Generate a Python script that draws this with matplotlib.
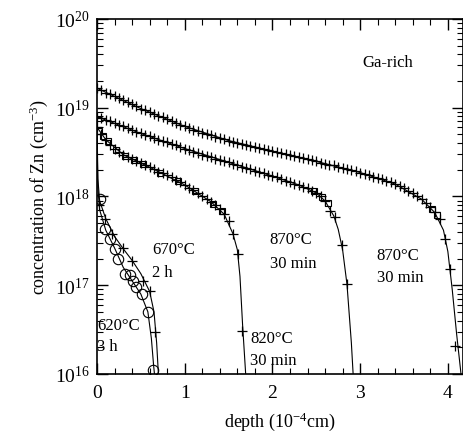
import matplotlib
matplotlib.use('Agg')
import matplotlib.pyplot as plt
import numpy as np
from matplotlib.ticker import LogLocator, MultipleLocator, NullFormatter

plt.rcParams['font.family'] = ['Liberation Serif', 'DejaVu Serif']
plt.rcParams['mathtext.fontset'] = 'custom'
plt.rcParams['mathtext.rm'] = 'Liberation Serif'
plt.rcParams['mathtext.it'] = 'Liberation Serif:italic'
plt.rcParams['mathtext.bf'] = 'Liberation Serif:bold'

# ---- data (depth in 1e-4 cm, log10 of Zn concentration in cm^-3) ----
# 870C 30 min, deep profile (+)
depth_870b = [0.00, 0.05, 0.10, 0.15, 0.20, 0.25, 0.30, 0.35, 0.40, 0.45, 0.50, 0.55, 0.60,
              0.65, 0.70, 0.75, 0.80, 0.85, 0.90, 0.95, 1.00, 1.05, 1.10, 1.15, 1.20, 1.25,
              1.30, 1.35, 1.40, 1.45, 1.50, 1.55, 1.60, 1.65, 1.70, 1.75, 1.80, 1.85, 1.90,
              1.95, 2.00, 2.05, 2.10, 2.15, 2.20, 2.25, 2.30, 2.35, 2.40, 2.45, 2.50, 2.55,
              2.60, 2.65, 2.70, 2.75, 2.80, 2.85, 2.90, 2.95, 3.00, 3.05, 3.10, 3.15, 3.20,
              3.25, 3.30, 3.35, 3.40, 3.45, 3.50, 3.55, 3.60, 3.65, 3.70, 3.75, 3.80, 3.85,
              3.91, 3.97, 4.03, 4.08]
logc_870b = [19.22, 19.195, 19.17, 19.15, 19.13, 19.11, 19.09, 19.065, 19.04, 19.015, 18.99,
             18.97, 18.95, 18.93, 18.91, 18.89, 18.87, 18.85, 18.83, 18.81, 18.79, 18.77,
             18.75, 18.735, 18.72, 18.705, 18.69, 18.675, 18.66, 18.645, 18.63, 18.615,
             18.60, 18.59, 18.58, 18.567, 18.555, 18.542, 18.53, 18.52, 18.51, 18.50, 18.49,
             18.477, 18.465, 18.452, 18.44, 18.43, 18.42, 18.407, 18.395, 18.382, 18.37,
             18.36, 18.35, 18.335, 18.32, 18.31, 18.30, 18.285, 18.27, 18.255, 18.24,
             18.225, 18.21, 18.195, 18.18, 18.16, 18.14, 18.115, 18.09, 18.065, 18.04,
             18.005, 17.97, 17.93, 17.88, 17.82, 17.75, 17.52, 17.18, 16.32]
line_depth_870b = [0.0, 0.5, 1.0, 1.5, 2.0, 2.5, 3.0, 3.4, 3.7, 3.85, 3.95, 4.0, 4.05, 4.1, 4.15]
line_logc_870b = [19.22, 18.99, 18.79, 18.63, 18.51, 18.395, 18.27, 18.14, 17.97, 17.82,
                  17.62, 17.38, 16.95, 16.45, 16.0]

# 870C 30 min, middle profile (+)
depth_870a = [0.00, 0.05, 0.10, 0.15, 0.20, 0.25, 0.30, 0.35, 0.40, 0.45, 0.50, 0.55, 0.60,
              0.65, 0.70, 0.75, 0.80, 0.85, 0.90, 0.95, 1.00, 1.05, 1.10, 1.15, 1.20, 1.25,
              1.30, 1.35, 1.40, 1.45, 1.50, 1.55, 1.60, 1.65, 1.70, 1.75, 1.80, 1.85, 1.90,
              1.95, 2.00, 2.05, 2.10, 2.15, 2.20, 2.25, 2.30, 2.35, 2.40, 2.45, 2.50, 2.55,
              2.60, 2.66, 2.71, 2.79, 2.85]
logc_870a = [18.90, 18.88, 18.86, 18.845, 18.83, 18.81, 18.79, 18.767, 18.745, 18.727, 18.71,
             18.695, 18.68, 18.66, 18.64, 18.625, 18.61, 18.595, 18.58, 18.56, 18.54, 18.522,
             18.505, 18.487, 18.47, 18.455, 18.44, 18.425, 18.41, 18.397, 18.385, 18.367,
             18.35, 18.335, 18.32, 18.305, 18.29, 18.275, 18.26, 18.245, 18.23, 18.215,
             18.20, 18.18, 18.16, 18.145, 18.13, 18.11, 18.09, 18.065, 18.04, 18.00, 17.95,
             17.84, 17.77, 17.45, 17.01]
line_depth_870a = [0.0, 0.5, 1.0, 1.5, 2.0, 2.3, 2.5, 2.6, 2.7, 2.75, 2.8, 2.85, 2.9, 2.92]
line_logc_870a = [18.90, 18.71, 18.54, 18.385, 18.23, 18.13, 18.04, 17.95, 17.78, 17.63,
                  17.40, 17.01, 16.35, 16.0]

# 820C 30 min (+)
depth_820 = [0.00, 0.05, 0.10, 0.15, 0.20, 0.25, 0.30, 0.35, 0.40, 0.45, 0.50, 0.55, 0.60,
             0.65, 0.70, 0.75, 0.80, 0.85, 0.90, 0.95, 1.00, 1.05, 1.10, 1.15, 1.20, 1.25,
             1.30, 1.35, 1.40, 1.45, 1.50, 1.55, 1.61, 1.65]
logc_820 = [18.78, 18.70, 18.64, 18.585, 18.54, 18.50, 18.47, 18.445, 18.42, 18.40, 18.38,
            18.355, 18.33, 18.305, 18.28, 18.26, 18.24, 18.215, 18.19, 18.16, 18.13, 18.10,
            18.07, 18.04, 18.01, 17.975, 17.94, 17.90, 17.86, 17.80, 17.72, 17.58, 17.35, 16.49]
line_depth_820 = [0.0, 0.1, 0.3, 0.6, 1.0, 1.3, 1.45, 1.55, 1.6, 1.63, 1.66, 1.695]
line_logc_820 = [18.78, 18.64, 18.47, 18.33, 18.13, 17.94, 17.80, 17.58, 17.40, 17.10,
                 16.55, 16.0]

# square symbols (second data set)
sq_depth = [0.02, 0.07, 0.12, 0.22, 0.32, 0.42, 0.52, 0.72, 0.92, 1.12, 1.32, 1.42,
            2.47, 2.57, 2.63, 3.82, 3.88]
sq_logc = [18.74, 18.68, 18.62, 18.52, 18.46, 18.41, 18.37, 18.27, 18.18, 18.06, 17.92,
           17.84, 18.06, 17.99, 17.93, 17.86, 17.79]

# 670C 2 h (+)
depth_670 = [0.02, 0.09, 0.17, 0.30, 0.40, 0.53, 0.60, 0.66]
logc_670 = [17.90, 17.75, 17.58, 17.42, 17.27, 17.05, 16.94, 16.47]
line_depth_670 = [0.0, 0.01, 0.03, 0.1, 0.2, 0.3, 0.4, 0.5, 0.6, 0.65, 0.68, 0.70]
line_logc_670 = [18.85, 18.2, 17.95, 17.75, 17.55, 17.41, 17.28, 17.13, 16.93, 16.7, 16.35, 16.0]

# 620C 3 h (circles)
depth_620 = [0.03, 0.09, 0.148, 0.205, 0.243, 0.32, 0.376, 0.414, 0.45, 0.51, 0.585, 0.64]
logc_620 = [17.97, 17.63, 17.52, 17.41, 17.30, 17.13, 17.11, 17.05, 16.98, 16.90, 16.70, 16.04]
line_depth_620 = [0.0, 0.01, 0.03, 0.1, 0.2, 0.3, 0.4, 0.5, 0.58, 0.62, 0.645, 0.655]
line_logc_620 = [18.7, 18.1, 17.85, 17.62, 17.42, 17.20, 17.05, 16.90, 16.70, 16.40, 16.10, 16.0]

labels = [("Ga-rich", 3.03, 19.52, None),
          ("670°C", 0.63, 17.41, "2 h", 17.15),
          ("870°C", 1.97, 17.52, "30 min", 17.25),
          ("870°C", 3.19, 17.34, "30 min", 17.09),
          ("820°C", 1.745, 16.41, "30 min", 16.16),
          ("620°C", 0.0, 16.55, "3 h", 16.32)]


def c(v):
    return np.power(10.0, np.asarray(v, dtype=float))


fig = plt.figure(figsize=(4.63, 4.39), dpi=100)
ax = fig.add_axes([0.2095, 0.1458, 0.79, 0.8087])

lw = 0.8
for xs, ys in [(line_depth_870b, line_logc_870b), (line_depth_870a, line_logc_870a),
               (line_depth_820, line_logc_820), (line_depth_670, line_logc_670),
               (line_depth_620, line_logc_620)]:
    ax.plot(xs, c(ys), color='black', lw=lw)

for xs, ys in [(depth_870b, logc_870b), (depth_870a, logc_870a), (depth_820, logc_820),
               (depth_670, logc_670)]:
    ax.plot(xs, c(ys), ls='none', marker='+', ms=7.5, mew=0.9, color='black')

ax.plot(sq_depth, c(sq_logc), ls='none', marker='s', ms=5, mew=0.8, mfc='none', mec='black')
ax.plot(depth_620, c(logc_620), ls='none', marker='o', ms=7.5, mew=0.8, mfc='none', mec='black')

ax.set_yscale('log')
ax.set_xlim(0, 4.17)
ax.set_ylim(1e16, 1e20)

ax.xaxis.set_major_locator(MultipleLocator(1))
ax.xaxis.set_minor_locator(MultipleLocator(0.2))
ax.yaxis.set_major_locator(LogLocator(base=10, numticks=10))
ax.yaxis.set_minor_locator(LogLocator(base=10, subs=np.arange(2, 10), numticks=20))
ax.yaxis.set_minor_formatter(NullFormatter())

ax.tick_params(which='both', direction='in', top=True, right=True, labelsize=14)
ax.tick_params(which='major', length=8, width=1.0)
ax.tick_params(which='minor', length=4, width=0.8)
ax.tick_params(axis='x', pad=7)
ax.tick_params(axis='y', pad=5)
for s in ax.spines.values():
    s.set_linewidth(1.2)

ax.set_xlabel('depth (10$^{-4}$cm)', fontsize=13, labelpad=6)
ax.set_ylabel('concentration of Zn (cm$^{-3}$)', fontsize=13, labelpad=4)

for item in labels:
    ax.text(item[1], c(item[2]), item[0], fontsize=12, ha='left', va='center')
    if item[3] is not None:
        ax.text(item[1], c(item[4]), item[3], fontsize=12, ha='left', va='center')

fig.savefig('out.png', dpi=100)
